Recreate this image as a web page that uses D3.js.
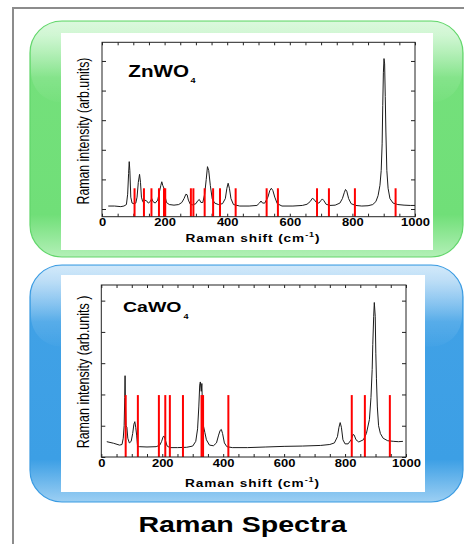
<!DOCTYPE html>
<html>
<head>
<meta charset="utf-8">
<script src="https://cdn.jsdelivr.net/npm/d3@7/dist/d3.min.js"></script>
<style>
  html, body { margin: 0; padding: 0; background: #fff; }
  svg { display: block; }
  text { font-family: "Liberation Sans", Arial, Helvetica, sans-serif; fill: #000; }
</style>
</head>
<body>
<svg id="chart" width="464" height="544"></svg>
<script>
// ---- data (Raman shift in cm^-1, intensity in arbitrary units) ----
const xTickValues = [0, 200, 400, 600, 800, 1000];
const yTickValues = [0, 1, 2, 3, 4, 5];

const znwoShift = [20, 40, 60, 70, 78, 82, 85, 87, 89, 92, 96, 102, 108, 112, 116, 120, 123, 126, 130, 136,
  142, 148, 154, 159, 163, 170, 178, 184, 188, 191, 194, 198, 201, 206, 215, 230, 245, 255, 262, 268,
  272, 276, 282, 290, 300, 306, 311, 316, 322, 328, 333, 337, 341, 346, 352, 360, 372, 385, 394, 399,
  403, 407, 412, 420, 440, 470, 495, 503, 508, 513, 520, 530, 536, 541, 546, 552, 560, 575, 610, 640,
  655, 665, 672, 677, 685, 693, 699, 704, 709, 716, 728, 745, 760, 768, 774, 778, 782, 788, 796, 810,
  830, 850, 865, 875, 882, 888, 892, 895, 897, 899, 901, 903, 905, 907, 910, 914, 920, 930, 945, 965,
  985, 1000];
const znwoIntensity = [0.10, 0.10, 0.08, 0.10, 0.15, 0.50, 1.20, 1.60, 1.30, 0.40, 0.20, 0.18, 0.20, 0.40, 0.90, 1.17, 0.90, 0.40, 0.25, 0.30,
  0.28, 0.20, 0.25, 0.35, 0.25, 0.20, 0.30, 0.60, 0.80, 0.92, 0.80, 0.70, 0.45, 0.22, 0.15, 0.13, 0.15, 0.22, 0.35, 0.50,
  0.48, 0.30, 0.16, 0.14, 0.18, 0.28, 0.32, 0.22, 0.22, 0.50, 1.00, 1.43, 1.30, 0.80, 0.35, 0.20, 0.15, 0.18, 0.35, 0.70,
  0.87, 0.70, 0.35, 0.15, 0.10, 0.10, 0.12, 0.20, 0.27, 0.20, 0.20, 0.40, 0.62, 0.70, 0.62, 0.40, 0.18, 0.10, 0.10, 0.12,
  0.16, 0.25, 0.36, 0.33, 0.22, 0.20, 0.28, 0.34, 0.28, 0.16, 0.12, 0.13, 0.20, 0.35, 0.55, 0.66, 0.60, 0.35, 0.18, 0.12,
  0.10, 0.11, 0.15, 0.25, 0.45, 0.80, 1.30, 2.20, 3.50, 4.60, 5.08, 4.90, 3.80, 2.60, 1.30, 0.70, 0.35, 0.20, 0.15, 0.13,
  0.12, 0.12];
const znwoModes = [104, 134, 158, 182, 198, 202, 284, 292, 328, 355, 377, 427, 526, 562, 687, 725, 808, 938];
const znwoModeTop = 0.7;

const cawoShift = [18, 40, 60, 68, 72, 75, 77, 78, 79, 81, 84, 87, 92, 98, 103, 107, 110, 113, 116, 119,
  125, 150, 180, 192, 198, 203, 206, 210, 216, 225, 250, 280, 300, 310, 316, 320, 323, 325, 328, 330,
  332, 335, 340, 345, 355, 368, 378, 385, 390, 394, 398, 404, 412, 430, 480, 540, 600, 660, 720, 750,
  765, 775, 780, 784, 788, 793, 800, 810, 820, 826, 830, 836, 845, 860, 870, 880, 885, 889, 891, 894,
  896, 899, 901, 903, 906, 910, 916, 925, 940, 960, 975, 990];
const cawoIntensity = [0.49, 0.44, 0.38, 0.40, 0.60, 1.00, 1.90, 2.60, 1.80, 1.00, 0.95, 0.60, 0.45, 0.50, 0.75, 1.05, 1.13, 0.95, 0.70, 0.35,
  0.33, 0.32, 0.33, 0.38, 0.50, 0.65, 0.67, 0.55, 0.35, 0.30, 0.30, 0.31, 0.35, 0.50, 0.90, 1.60, 2.30, 2.40, 2.10, 2.35,
  1.60, 1.00, 0.78, 0.55, 0.38, 0.36, 0.45, 0.70, 0.85, 0.88, 0.75, 0.45, 0.33, 0.30, 0.30, 0.32, 0.34, 0.35, 0.37, 0.40,
  0.45, 0.65, 0.95, 1.10, 0.95, 0.55, 0.42, 0.42, 0.55, 0.72, 0.70, 0.55, 0.48, 0.55, 0.75, 1.20, 1.90, 2.80, 3.60, 4.50,
  4.94, 4.50, 3.30, 2.50, 1.60, 1.00, 0.75, 0.60, 0.52, 0.50, 0.49, 0.50];
const cawoModes = [80, 120, 189, 210, 225, 268, 329, 334, 417, 822, 865, 947];
const cawoModeTop = 1.98;

// ---- drawing ----
const svg = d3.select("#chart");
const defs = svg.append("defs");

function panelGradient(id, stops) {
  const g = defs.append("linearGradient").attr("id", id)
    .attr("x1", 0).attr("y1", 0).attr("x2", 0).attr("y2", 1);
  stops.forEach(([o, c, a]) => g.append("stop").attr("offset", o)
    .attr("stop-color", c).attr("stop-opacity", a == null ? 1 : a));
}
panelGradient("greenFill", [[0, "#c9f6cc"], [0.06, "#bcf3c0"], [0.24, "#74e07b"], [0.82, "#70df78"], [1, "#b3f0b7"]]);
panelGradient("blueFill", [[0, "#b9ddf7"], [0.06, "#a5d2f4"], [0.24, "#40a1e6"], [0.82, "#3c9fe5"], [1, "#9ccff3"]]);
panelGradient("gloss", [[0, "#ffffff", 0.35], [1, "#ffffff", 0.02]]);

// outer frame
svg.append("path").attr("d", "M13,544V8H464")
  .attr("fill", "none").attr("stroke", "#8c8c8c").attr("stroke-width", 2);

const panels = [
  {
    box: { x: 30, y: 21, w: 433, h: 236 }, fill: "greenFill", edge: "#62d66b",
    inner: { x: 61, y: 33, w: 372, h: 217 },
    plot: { l: 102, r: 415, t: 42.3, b: 216.7 }, yDomain: [-0.26, 5.63],
    shift: znwoShift, intensity: znwoIntensity, modes: znwoModes, modeTop: znwoModeTop,
    name: "ZnWO", nameSize: 16.5, nameSx: 1.25, namePos: [128.3, 76.7], subPos: [190.5, 83],
    yLabel: "Raman intensity (arb.units)", yLabelPos: [88.5, 131], yLabelSize: 12.3,
    xLabelPos: [253, 241.7], tickPad: 2
  },
  {
    box: { x: 30, y: 265, w: 433, h: 237 }, fill: "blueFill", edge: "#3a9be2",
    inner: { x: 61, y: 275, w: 364, h: 217 },
    plot: { l: 101.3, r: 406, t: 285, b: 457 }, yDomain: [0, 5.5],
    shift: cawoShift, intensity: cawoIntensity, modes: cawoModes, modeTop: cawoModeTop,
    name: "CaWO", nameSize: 15, nameSx: 1.3, namePos: [123, 312], subPos: [183.5, 318.5],
    yLabel: "Raman intensity (arb.units )", yLabelPos: [88.5, 372], yLabelSize: 12.5,
    xLabelPos: [252.5, 486.7], tickPad: 3
  }
];

panels.forEach(p => {
  const g = svg.append("g");
  // coloured rounded backdrop
  g.append("rect").attr("x", p.box.x).attr("y", p.box.y).attr("width", p.box.w).attr("height", p.box.h)
    .attr("rx", 32).attr("ry", 32).attr("fill", `url(#${p.fill})`)
    .attr("stroke", p.edge).attr("stroke-width", 1.2);
  g.append("rect").attr("x", p.box.x + 1).attr("y", p.box.y + 1).attr("width", p.box.w - 2).attr("height", p.box.h * 0.34)
    .attr("rx", 30).attr("ry", 30).attr("fill", "url(#gloss)");
  // white card
  g.append("rect").attr("x", p.inner.x).attr("y", p.inner.y).attr("width", p.inner.w).attr("height", p.inner.h)
    .attr("fill", "#fff");

  const x = d3.scaleLinear().domain([0, 1000]).range([p.plot.l, p.plot.r]);
  const y = d3.scaleLinear().domain(p.yDomain).range([p.plot.b, p.plot.t]);
  const minor = d3.range(0, 1001, 50);

  // axes: inward ticks on all four sides
  const axB = g.append("g").attr("transform", `translate(0,${p.plot.b})`)
    .call(d3.axisBottom(x).tickValues(minor).tickSizeInner(-3).tickSizeOuter(0).tickPadding(p.tickPad)
      .tickFormat(d => xTickValues.includes(d) ? d : ""));
  axB.selectAll("text").attr("font-size", 10).attr("font-weight", "bold").attr("fill", "#111")
    .attr("transform", "scale(1.3,1)");
  g.append("g").attr("transform", `translate(0,${p.plot.t})`)
    .call(d3.axisTop(x).tickValues(minor).tickSizeInner(-3).tickSizeOuter(0).tickFormat(""));
  g.append("g").attr("transform", `translate(${p.plot.l},0)`)
    .call(d3.axisLeft(y).tickValues(yTickValues).tickSizeInner(-4).tickSizeOuter(0).tickFormat(""));
  g.append("g").attr("transform", `translate(${p.plot.r},0)`)
    .call(d3.axisRight(y).tickValues(yTickValues).tickSizeInner(-4).tickSizeOuter(0).tickFormat(""));
  g.selectAll(".domain").remove();
  g.selectAll(".tick line").attr("stroke", "#222");

  // spectrum
  const pts = p.shift.map((s, i) => [s, p.intensity[i]]);
  g.append("path").datum(pts)
    .attr("d", d3.line().x(d => x(d[0])).y(d => y(d[1])))
    .attr("fill", "none").attr("stroke", "#1b1b1b").attr("stroke-width", 1);

  // calculated mode positions
  g.selectAll(".mode").data(p.modes).join("line").attr("class", "mode")
    .attr("x1", d => x(d)).attr("x2", d => x(d))
    .attr("y1", p.plot.b).attr("y2", y(p.modeTop))
    .attr("stroke", "#ff0000").attr("stroke-width", 2);

  // frame
  g.append("rect").attr("x", p.plot.l).attr("y", p.plot.t)
    .attr("width", p.plot.r - p.plot.l).attr("height", p.plot.b - p.plot.t)
    .attr("fill", "none").attr("stroke", "#222").attr("stroke-width", 1);

  // compound label
  g.append("text").attr("transform", `translate(${p.namePos[0]},${p.namePos[1]}) scale(${p.nameSx},1)`)
    .attr("font-size", p.nameSize).attr("font-weight", "bold").text(p.name);
  g.append("text").attr("transform", `translate(${p.subPos[0]},${p.subPos[1]}) scale(1.3,1)`)
    .attr("font-size", 7).attr("font-weight", "bold").text("4");

  // axis titles
  g.append("text").attr("transform", `translate(${p.yLabelPos[0]},${p.yLabelPos[1]}) scale(1.3,1) rotate(-90)`)
    .attr("text-anchor", "middle").attr("font-size", p.yLabelSize).text(p.yLabel);
  const xl = g.append("text").attr("transform", `translate(${p.xLabelPos[0]},${p.xLabelPos[1]}) scale(1.3,1)`)
    .attr("text-anchor", "middle").attr("font-size", 10.5).attr("font-weight", "bold")
    .attr("letter-spacing", 0.7);
  xl.append("tspan").text("Raman shift (cm");
  xl.append("tspan").attr("font-size", 7).attr("dy", -4.5).text("-1");
  xl.append("tspan").attr("dy", 4.5).text(")");
});

svg.append("text").attr("transform", "translate(242.5,531.7) scale(1.3,1)")
  .attr("text-anchor", "middle").attr("font-size", 22).attr("font-weight", "bold")
  .text("Raman Spectra");
</script>
</body>
</html>
